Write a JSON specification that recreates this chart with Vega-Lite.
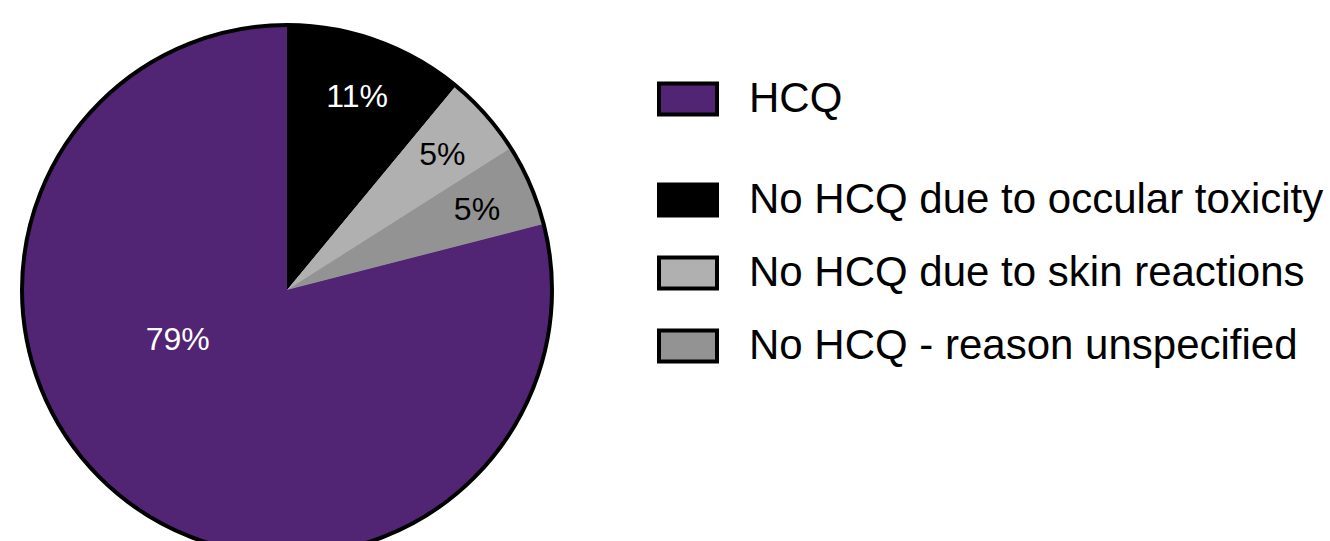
{
  "$schema": "https://vega.github.io/schema/vega-lite/v6.json",
  "autosize": {"type": "none"},
  "padding": {"left": 20, "top": 39, "right": 776, "bottom": 0},
  "width": 534,
  "height": 502,
  "background": "white",
  "config": {"view": {"stroke": null}, "font": "Liberation Sans"},
  "data": {"values": [
    {"k": 1, "cat": "No HCQ due to occular toxicity", "value": 11, "label": "11%"},
    {"k": 2, "cat": "No HCQ due to skin reactions", "value": 5, "label": "5%"},
    {"k": 3, "cat": "No HCQ - reason unspecified", "value": 5, "label": "5%"},
    {"k": 4, "cat": "HCQ", "value": 79, "label": "79%"}
  ]},
  "layer": [
    {
      "mark": {"type": "arc", "radius": 265, "strokeWidth": 0},
      "encoding": {
        "theta": {"field": "value", "type": "quantitative", "stack": true},
        "order": {"field": "k", "type": "quantitative"},
        "color": {
          "field": "cat", "type": "nominal",
          "scale": {"domain": ["HCQ", "No HCQ due to occular toxicity", "No HCQ due to skin reactions", "No HCQ - reason unspecified"],
                    "range": ["#512474", "#000000", "#b0b0b0", "#939393"]},
          "legend": {"values": ["HCQ"], "title": null, "orient": "none", "legendX": 637, "legendY": 29,
                     "symbolType": "M-1,-0.534H1V0.534H-1Z", "symbolSize": 3364, "symbolStrokeColor": "black", "symbolStrokeWidth": 4,
                     "labelFontSize": 42, "labelFont": "Liberation Sans", "labelColor": "black", "labelLimit": 0, "labelOffset": 30, "padding": 0}
        }
      }
    },
    {
      "mark": {"type": "arc", "radius": 265, "strokeWidth": 0},
      "encoding": {
        "theta": {"field": "value", "type": "quantitative", "stack": true},
        "order": {"field": "k", "type": "quantitative"},
        "fill": {
          "field": "cat", "type": "nominal",
          "scale": {"domain": ["HCQ", "No HCQ due to occular toxicity", "No HCQ due to skin reactions", "No HCQ - reason unspecified"],
                    "range": ["#512474", "#000000", "#b0b0b0", "#939393"]},
          "legend": {"values": ["No HCQ due to occular toxicity", "No HCQ due to skin reactions", "No HCQ - reason unspecified"],
                     "title": null, "orient": "none", "legendX": 637, "legendY": 130, "rowPadding": 18,
                     "symbolType": "M-1,-0.534H1V0.534H-1Z", "symbolSize": 3364, "symbolStrokeColor": "black", "symbolStrokeWidth": 4,
                     "labelFontSize": 42, "labelFont": "Liberation Sans", "labelColor": "black", "labelLimit": 0, "labelOffset": 30, "padding": 0}
        }
      }
    },
    {
      "data": {"values": [{"v": 100}]},
      "mark": {"type": "arc", "radius": 265, "fill": null, "fillOpacity": 0, "stroke": "black", "strokeWidth": 4},
      "encoding": {
        "theta": {"field": "v", "type": "quantitative", "stack": true}
      }
    },
    {
      "mark": {"type": "text", "radius": 207, "dy": 2, "fontSize": 32, "font": "Liberation Sans"},
      "encoding": {
        "theta": {"field": "value", "type": "quantitative", "stack": true},
        "order": {"field": "k", "type": "quantitative"},
        "text": {"field": "label", "type": "nominal"},
        "fill": {"condition": {"test": "datum.value === 5", "value": "black"}, "value": "white"},
        "opacity": {"condition": {"test": "datum.cat === 'HCQ'", "value": 0}, "value": 1}
      }
    },
    {
      "mark": {"type": "text", "radius": 105, "dx": -45, "dy": -33, "fontSize": 32, "font": "Liberation Sans", "fill": "white"},
      "encoding": {
        "theta": {"field": "value", "type": "quantitative", "stack": true},
        "order": {"field": "k", "type": "quantitative"},
        "text": {"field": "label", "type": "nominal"},
        "opacity": {"condition": {"test": "datum.cat === 'HCQ'", "value": 1}, "value": 0}
      }
    }
  ],
  "resolve": {"scale": {"color": "independent", "fill": "independent"}}
}
